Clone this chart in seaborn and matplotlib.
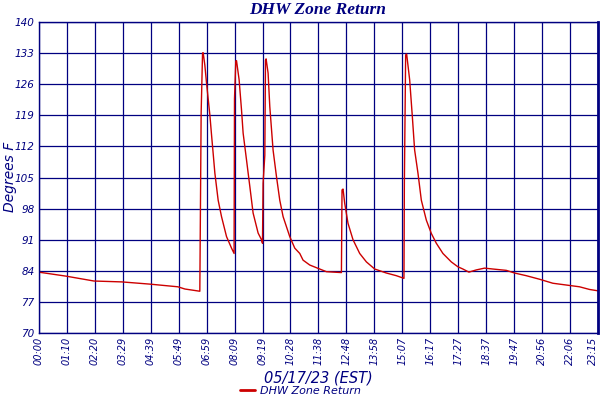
import matplotlib
matplotlib.use("Agg")
import matplotlib.pyplot as plt
import seaborn as sns
import pandas as pd
import numpy as np
from matplotlib.lines import Line2D

# ---- data (minutes since midnight, degrees F) ----
minutes = [0, 68, 137.8, 207.6, 277.4, 347.2, 364.7, 401.9,
           405.2, 408.7, 410.2, 414.4, 418.7, 426.9, 431.1, 435.1, 439.4, 447.6,
           456.0, 468.5, 481.0, 487.4,
           488.4, 491.6, 493.4, 499.9, 505.9, 509.9, 518.3, 526.6, 534.8, 547.3,
           555.7, 558.2,
           559.7, 564.0, 565.7, 567.2, 572.2, 576.4, 584.6, 593.1, 601.3, 609.6,
           626.2, 638.7, 651.2, 659.4, 676.1, 701.0, 717.7, 755.1,
           756.6, 759.1, 763.3, 771.5, 784.0, 800.7, 817.4, 838.1, 867.2, 892.1,
           911.1,
           912.1, 915.3, 917.8, 925.3, 932.0, 937.7, 946.0, 954.4, 966.9, 979.4,
           991.8, 1008.3, 1029.2, 1045.7, 1058.1, 1073.1, 1091.5, 1112.2, 1132.9,
           1166.3, 1187.0, 1216.1, 1249.3, 1282.4, 1315.8, 1349.0, 1374.0, 1394.7]
temps = [83.7, 82.8, 81.7, 81.5, 81.0, 80.4, 79.9, 79.4,
         119.5, 133.0, 133.1, 130.3, 126.2, 119.1, 114.6, 110.5, 106.0, 99.9,
         96.2, 91.7, 89.1, 87.9,
         122.7, 131.2, 131.3, 127.0, 120.2, 115.0, 109.0, 103.0, 97.0, 92.5,
         91.0, 90.2,
         103.7, 110.0, 131.4, 131.7, 128.5, 121.0, 111.2, 105.2, 99.9, 96.2,
         91.7, 89.1, 87.9, 86.4, 85.3, 84.4, 83.8, 83.6,
         102.2, 102.4, 99.2, 94.7, 91.0, 87.9, 86.0, 84.4, 83.5, 82.9,
         82.3,
         103.7, 132.6, 132.8, 127.0, 118.7, 111.2, 106.0, 99.9, 95.4, 92.4,
         90.2, 87.9, 86.0, 84.9, 84.4, 83.7, 84.2, 84.6, 84.4,
         84.1, 83.5, 82.9, 82.1, 81.2, 80.8, 80.4, 79.8, 79.5]

tick_labels = ["00:00", "01:10", "02:20", "03:29", "04:39", "05:49", "06:59",
               "08:09", "09:19", "10:28", "11:38", "12:48", "13:58", "15:07",
               "16:17", "17:27", "18:37", "19:47", "20:56", "22:06", "23:15"]
tick_step = 69.78
y_ticks = [70, 77, 84, 91, 98, 105, 112, 119, 126, 133, 140]
y_tick_labels = ["70", "77", "84", "91", "98", "105", "112", "119", "126", "133", "140"]
series_name = "DHW Zone Return"

df = pd.DataFrame({"minute": minutes, "temp": temps, "series": series_name})

sns.set_style("white")
plt.rcParams["font.family"] = ["DejaVu Sans"]

NAVY = "#000080"
RED = "#cc0000"

fig = plt.figure(figsize=(6, 4), dpi=100)
ax = fig.add_axes([0.0645, 0.1675, 0.9325, 0.7775])

sns.lineplot(data=df, x="minute", y="temp", hue="series", palette=[RED],
             estimator=None, sort=False, linewidth=1.0, ax=ax, legend=False)

ax.set_xlim(0, tick_step * 20)
ax.set_ylim(70, 140)
ax.set_xticks([i * tick_step for i in range(len(tick_labels))])
ax.set_xticklabels(tick_labels, rotation=90, fontsize=7, style="italic", color=NAVY)
ax.get_xticklabels()[-1].set_horizontalalignment("right")
ax.set_yticks(y_ticks)
ax.set_yticklabels(y_tick_labels, fontsize=7.5, style="italic", color=NAVY)
ax.tick_params(axis="both", length=0, pad=3)
ax.grid(True, color=NAVY, linewidth=0.9)
ax.set_axisbelow(True)
for s in ax.spines.values():
    s.set_color(NAVY)
    s.set_linewidth(1.0)
ax.spines["right"].set_linewidth(2)

ax.set_xlabel("05/17/23 (EST)", fontsize=10.5, style="italic", color=NAVY, labelpad=4)
ax.set_ylabel("")
fig.text(0.016, 0.557, "Degrees F", rotation=90, ha="center", va="center",
         fontsize=10, style="italic", color=NAVY)
fig.text(0.53, 0.975, "DHW Zone Return", ha="center", va="center",
         fontsize=12.5, fontweight="bold", style="italic", color=NAVY,
         family=["Liberation Serif"])

h = Line2D([0], [0], color=RED, linewidth=2)
leg = fig.legend([h], [series_name], loc="center", bbox_to_anchor=(0.5, 0.022),
                 frameon=False, handlelength=1.4, handletextpad=0.4,
                 prop={"style": "italic", "size": 8})
for t in leg.get_texts():
    t.set_color(NAVY)

fig.savefig("out.png", dpi=100)
